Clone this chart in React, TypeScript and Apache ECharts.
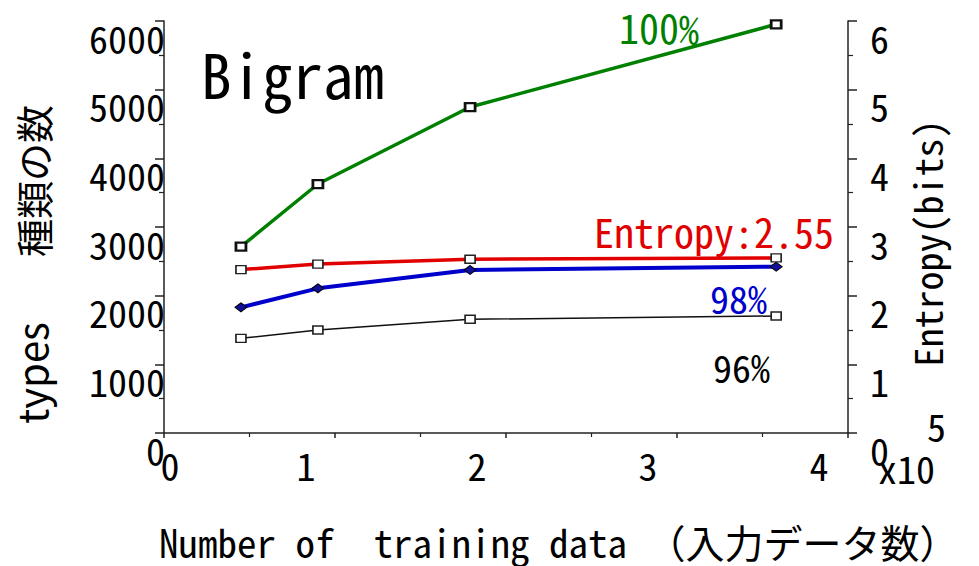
import React, { useEffect, useRef } from "react";
import * as echarts from "echarts";

// ---- data (x in units of 10^5 training data) ----
const xValues = [0.45, 0.9, 1.79, 3.58];
const types100 = [2713, 3626, 4747, 5952];
const types98 = [1830, 2107, 2374, 2422];
const types96 = [1379, 1500, 1656, 1704];
const entropyBits = [2.38, 2.46, 2.53, 2.55];

const xTickLabels = ["0", "1", "2", "3", "4"];
const leftTickLabels = ["0", "1000", "2000", "3000", "4000", "5000", "6000"];
const rightTickLabels = ["0", "1", "2", "3", "4", "5", "6"];

const MONO = "'Noto Sans Mono CJK JP', 'Noto Sans CJK JP', 'DejaVu Sans Mono', monospace";
const GOTHIC = "'Noto Sans CJK JP', 'Noto Sans', sans-serif";

const pts = (ys: number[]) => xValues.map((x, i) => [x, ys[i]]);

const axisLineStyle = { color: "#222", width: 1.5 };

function buildOption(): any {
  return {
    animation: false,
    backgroundColor: "#fff",
    grid: { left: 164, right: 131, top: 21, bottom: 133, containLabel: false },
    xAxis: {
      type: "value",
      min: 0,
      max: 4,
      interval: 1,
      axisLine: { show: true, lineStyle: axisLineStyle },
      axisTick: { show: true, inside: false, length: 5, lineStyle: axisLineStyle },
      minorTick: { show: true, splitNumber: 2, length: 4, lineStyle: { color: "#222", width: 1.2 } },
      splitLine: { show: false },
      minorSplitLine: { show: false },
      axisLabel: {
        margin: 12,
        color: "#000",
        fontFamily: MONO,
        fontSize: 38,
        formatter: (v: number) => {
          const t = xTickLabels[Math.round(v)] ?? String(v);
          return v === 0 ? "{a|" + t + "}" : "{b|" + t + "}";
        },
        rich: {
          a: { fontFamily: MONO, fontSize: 38, color: "#000", padding: [0, 0, 0, 12] },
          b: { fontFamily: MONO, fontSize: 38, color: "#000", padding: [0, 58, 0, 0] },
        },
      },
    },
    yAxis: [
      {
        type: "value",
        position: "left",
        min: 0,
        max: 6000,
        interval: 1000,
        axisLine: { show: true, lineStyle: axisLineStyle },
        axisTick: { show: true, inside: false, length: 9, lineStyle: axisLineStyle },
        minorTick: { show: true, splitNumber: 2, length: 5, lineStyle: { color: "#222", width: 1.2 } },
        splitLine: { show: false },
        minorSplitLine: { show: false },
        axisLabel: {
          margin: -1,
          color: "#000",
          fontFamily: MONO,
          fontSize: 38,
          lineHeight: 32,
          verticalAlign: "top",
          formatter: (v: number) => leftTickLabels[Math.round(v / 1000)] ?? String(v),
        },
      },
      {
        type: "value",
        position: "right",
        min: 0,
        max: 6,
        interval: 1,
        axisLine: { show: true, lineStyle: axisLineStyle },
        axisTick: { show: true, inside: false, length: 9, lineStyle: axisLineStyle },
        minorTick: { show: true, splitNumber: 2, length: 5, lineStyle: { color: "#222", width: 1.2 } },
        splitLine: { show: false },
        minorSplitLine: { show: false },
        axisLabel: {
          margin: 22,
          color: "#000",
          fontFamily: MONO,
          fontSize: 38,
          lineHeight: 32,
          verticalAlign: "top",
          formatter: (v: number) => rightTickLabels[Math.round(v)] ?? String(v),
        },
      },
    ],
    series: [
      {
        name: "96%",
        type: "line",
        data: pts(types96),
        yAxisIndex: 0,
        symbol: "rect",
        symbolSize: [10, 8],
        lineStyle: { color: "#111", width: 1.5 },
        itemStyle: { color: "#fff", borderColor: "#222", borderWidth: 1.5 },
        z: 2,
      },
      {
        name: "98%",
        type: "line",
        data: pts(types98),
        yAxisIndex: 0,
        symbol: "diamond",
        symbolSize: [12, 9],
        lineStyle: { color: "#0000cc", width: 4 },
        itemStyle: { color: "#10109a", borderColor: "#000", borderWidth: 1 },
        z: 3,
      },
      {
        name: "Entropy",
        type: "line",
        data: pts(entropyBits),
        yAxisIndex: 1,
        symbol: "rect",
        symbolSize: [10, 8],
        lineStyle: { color: "#e00000", width: 3.5 },
        itemStyle: { color: "#fff", borderColor: "#222", borderWidth: 1.5 },
        z: 4,
      },
      {
        name: "100%",
        type: "line",
        data: pts(types100),
        yAxisIndex: 0,
        symbol: "rect",
        symbolSize: [10, 8],
        lineStyle: { color: "#008000", width: 3.5 },
        itemStyle: { color: "#fff", borderColor: "#111", borderWidth: 2.5 },
        z: 5,
      },
    ],
    graphic: [
      {
        type: "text", x: 201, y: 72,
        style: { text: "Bigram", fill: "#000", fontFamily: MONO, fontSize: 61, align: "left", verticalAlign: "middle" },
      },
      {
        type: "text", x: 619, y: 27,
        style: { text: "100%", fill: "#008000", fontFamily: MONO, fontSize: 40, align: "left", verticalAlign: "middle" },
      },
      {
        type: "text", x: 594, y: 231,
        style: { text: "Entropy:2.55", fill: "#e00000", fontFamily: MONO, fontSize: 40, align: "left", verticalAlign: "middle" },
      },
      {
        type: "text", x: 710, y: 297,
        style: { text: "98%", fill: "#0000cc", fontFamily: MONO, fontSize: 38, align: "left", verticalAlign: "middle" },
      },
      {
        type: "text", x: 713, y: 366,
        style: { text: "96%", fill: "#000", fontFamily: MONO, fontSize: 38, align: "left", verticalAlign: "middle" },
      },
      {
        type: "text", x: 878, y: 467,
        style: { text: "x10", fill: "#000", fontFamily: MONO, fontSize: 38, align: "left", verticalAlign: "middle" },
      },
      {
        type: "text", x: 927, y: 425,
        style: { text: "5", fill: "#000", fontFamily: MONO, fontSize: 38, align: "left", verticalAlign: "middle" },
      },
      {
        type: "text", x: 926, y: 243, rotation: Math.PI / 2,
        style: { text: "Entropy(bits)", fill: "#000", fontFamily: MONO, fontSize: 38, align: "center", verticalAlign: "middle" },
      },
      {
        type: "text", x: 32, y: 181, rotation: Math.PI / 2,
        style: { text: "種類の数", fill: "#000", fontFamily: GOTHIC, fontSize: 38, align: "center", verticalAlign: "middle" },
      },
      {
        type: "text", x: 31, y: 373, rotation: Math.PI / 2,
        style: { text: "types", fill: "#000", fontFamily: GOTHIC, fontSize: 40, align: "center", verticalAlign: "middle" },
      },
      {
        type: "text", x: 159, y: 541,
        style: { text: "Number of  training data （入力データ数）", fill: "#000", fontFamily: MONO, fontSize: 39, align: "left", verticalAlign: "middle" },
      },
    ],
  };
}

export default function App() {
  const ref = useRef<HTMLDivElement>(null);
  useEffect(() => {
    if (!ref.current) return;
    const chart = echarts.init(ref.current, null, { renderer: "svg" });
    chart.setOption(buildOption());
    return () => chart.dispose();
  }, []);
  return (
    <div
      ref={ref}
      style={{ position: "fixed", left: 0, top: 0, width: 979, height: 566, background: "#fff" }}
    />
  );
}
